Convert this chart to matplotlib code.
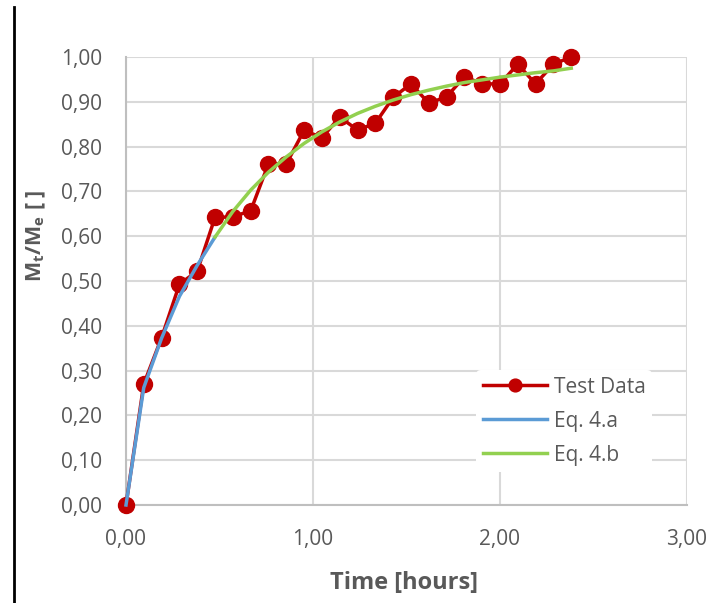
import matplotlib.pyplot as plt
from matplotlib.lines import Line2D
from matplotlib.ticker import FuncFormatter, MultipleLocator

plt.rcParams['font.family'] = ['Open Sans', 'DejaVu Sans']

# measured uptake, Mt/Me vs time in hours
time_h = [0.000, 0.095, 0.190, 0.286, 0.381, 0.476, 0.571, 0.667, 0.762, 0.857,
          0.952, 1.048, 1.143, 1.238, 1.333, 1.429, 1.524, 1.619, 1.714, 1.810,
          1.905, 2.000, 2.095, 2.190, 2.286, 2.381]
test_data = [0.000, 0.270, 0.373, 0.493, 0.522, 0.642, 0.643, 0.657, 0.762, 0.761,
             0.836, 0.820, 0.866, 0.837, 0.852, 0.910, 0.940, 0.897, 0.911, 0.956,
             0.940, 0.940, 0.984, 0.940, 0.984, 1.000]

# short-time fit (Eq. 4.a)
eq4a_t = [0.000, 0.095, 0.190, 0.286, 0.381, 0.476]
eq4a_y = [0.000, 0.262, 0.372, 0.466, 0.535, 0.598]

# long-time fit (Eq. 4.b)
eq4b_t = [0.476, 0.571, 0.667, 0.762, 0.857, 0.952, 1.048, 1.143, 1.238, 1.333,
          1.429, 1.524, 1.619, 1.714, 1.810, 1.905, 2.000, 2.095, 2.190, 2.286, 2.381]
eq4b_y = [0.598, 0.655, 0.703, 0.743, 0.777, 0.807, 0.833, 0.855, 0.874, 0.890,
          0.904, 0.916, 0.926, 0.935, 0.943, 0.949, 0.955, 0.960, 0.965, 0.969, 0.975]

grey = '#595959'

fig = plt.figure(figsize=(7.13, 6.03), dpi=100)
ax = fig.add_axes([126 / 713, 1 - 505 / 603, (687 - 126) / 713, (505 - 57) / 603])

ax.plot(time_h, test_data, color='#C00000', lw=2.5, marker='o', ms=11.5,
        label='Test Data', zorder=3, clip_on=False)
ax.plot(eq4a_t, eq4a_y, color='#5B9BD5', lw=2.5, label='Eq. 4.a', zorder=4,
        clip_on=False)
ax.plot(eq4b_t, eq4b_y, color='#92D050', lw=2.5, label='Eq. 4.b', zorder=4,
        clip_on=False)

ax.set_xlim(0, 3)
ax.set_ylim(0, 1)
ax.xaxis.set_major_locator(MultipleLocator(1))
ax.yaxis.set_major_locator(MultipleLocator(0.1))
comma = FuncFormatter(lambda v, p: f'{v:.2f}'.replace('.', ','))
ax.xaxis.set_major_formatter(comma)
ax.yaxis.set_major_formatter(comma)
ax.tick_params(length=0, labelsize=15, labelcolor=grey)
ax.tick_params(axis='y', pad=17)
ax.tick_params(axis='x', pad=17)

ax.grid(True, color='#d9d9d9', lw=1.5)
ax.set_axisbelow(True)
for side in ['top', 'right']:
    ax.spines[side].set_visible(False)
for side in ['left', 'bottom']:
    ax.spines[side].set_color('#bfbfbf')
    ax.spines[side].set_linewidth(1.5)

ax.set_xlabel('Time [hours]', fontsize=17, fontweight='bold', color=grey)
ax.xaxis.set_label_coords(0.496, -0.148)
ax.set_ylabel('M$_\\mathregular{t}$/M$_\\mathregular{e}$ [ ]', fontsize=15.5,
              fontweight='bold', color=grey)
ax.yaxis.set_label_coords(-0.139, 0.60)

leg = ax.legend(loc='upper left', bbox_to_anchor=(466 / 713, 1 - 360 / 603),
                bbox_transform=fig.transFigure, frameon=True, fontsize=15,
                handlelength=3.1, handletextpad=0.3, labelspacing=0.62,
                borderpad=0.3, markerscale=0.8)
leg.get_frame().set_edgecolor('none')
leg.get_frame().set_facecolor('white')
leg.get_frame().set_alpha(1)
for txt in leg.get_texts():
    txt.set_color(grey)

# dark rule at the left edge
fig.add_artist(Line2D([14 / 713, 14 / 713], [0, 1 - 7 / 603], color='black', lw=2))

fig.savefig('out.png', dpi=100)
